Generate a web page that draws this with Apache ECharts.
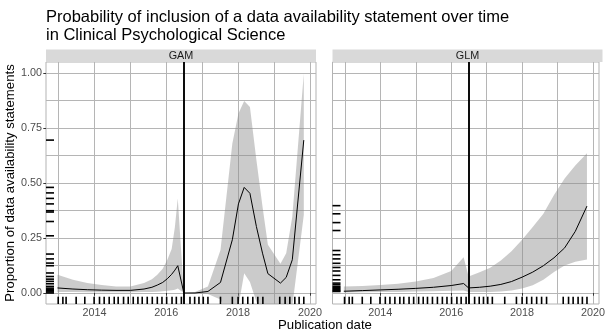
<!DOCTYPE html>
<html>
<head>
<meta charset="utf-8">
<script src="https://cdn.jsdelivr.net/npm/echarts@6/dist/echarts.min.js"></script>
<style>
    html, body { margin: 0; padding: 0; background: #fff; }
    #chart { width: 608px; height: 331px; }
</style>
</head>
<body>
<div id="chart"></div>
<script>
// GAM fit (prediction grid, decimal years)
var gamX     = [2012.97, 2013.4, 2013.8, 2014.2, 2014.6, 2015.0, 2015.38, 2015.6, 2015.75, 2015.9, 2016.03, 2016.15, 2016.24, 2016.32, 2016.49, 2016.8, 2017.16, 2017.51, 2017.84, 2018.01, 2018.17, 2018.33, 2018.51, 2018.68, 2018.83, 2019.18, 2019.34, 2019.51, 2019.83];
var gamFit   = [0.023, 0.018, 0.015, 0.013, 0.012, 0.012, 0.018, 0.026, 0.036, 0.048, 0.065, 0.085, 0.104, 0.124, 0.0, 0.0, 0.007, 0.048, 0.242, 0.405, 0.48, 0.453, 0.302, 0.181, 0.088, 0.045, 0.071, 0.151, 0.695];
var gamUpper = [0.083, 0.06, 0.045, 0.036, 0.03, 0.03, 0.045, 0.062, 0.083, 0.11, 0.151, 0.2, 0.3, 0.43, 0.0, 0.005, 0.03, 0.196, 0.68, 0.816, 0.873, 0.846, 0.604, 0.393, 0.219, 0.133, 0.181, 0.347, 0.997];
var gamLower = [0.004, 0.004, 0.003, 0.003, 0.003, 0.003, 0.004, 0.005, 0.006, 0.008, 0.01, 0.012, 0.015, 0.02, 0.0, 0.0, -0.005, -0.03, -0.15, -0.06, 0.09, 0.05, -0.04, -0.12, -0.15, -0.1, -0.1, -0.06, 0.355];

// GLM fit
var glmX     = [2012.97, 2013.5, 2014.0, 2014.5, 2015.0, 2015.5, 2016.0, 2016.35, 2016.49, 2016.8, 2017.1, 2017.4, 2017.7, 2018.0, 2018.3, 2018.6, 2018.9, 2019.2, 2019.5, 2019.83];
var glmFit   = [0.008, 0.011, 0.014, 0.017, 0.021, 0.026, 0.034, 0.043, 0.023, 0.026, 0.031, 0.039, 0.052, 0.072, 0.095, 0.124, 0.16, 0.205, 0.28, 0.395];
var glmUpper = [0.03, 0.032, 0.036, 0.042, 0.052, 0.068, 0.1, 0.163, 0.075, 0.094, 0.115, 0.148, 0.19, 0.242, 0.3, 0.36, 0.445, 0.52, 0.58, 0.635];
var glmLower = [0.002, 0.003, 0.004, 0.005, 0.007, 0.008, 0.01, 0.011, 0.004, 0.004, 0.005, 0.007, 0.011, 0.02, 0.035, 0.06, 0.095, 0.125, 0.142, 0.152];

// rugs: publication dates and fitted proportions
var rugDates = [2012.99, 2013.12, 2013.21, 2013.49, 2013.73, 2013.99, 2014.14, 2014.27, 2014.41, 2014.55, 2014.66, 2014.81, 2014.94, 2015.08, 2015.21, 2015.33, 2015.47, 2015.61, 2015.75, 2015.88, 2016.01, 2016.16, 2016.28, 2016.42,
                2016.66, 2016.79, 2016.91, 2017.03, 2017.16, 2017.51, 2017.84, 2018.0, 2018.13, 2018.27, 2018.41, 2018.55, 2018.69, 2019.16, 2019.31, 2019.44, 2019.58, 2019.7, 2019.83];
var gamRugY = [0.695, 0.48, 0.455, 0.43, 0.405, 0.374, 0.368, 0.325, 0.26, 0.177, 0.155, 0.136, 0.124, 0.091, 0.075, 0.063, 0.053, 0.042, 0.03, 0.022, 0.015, 0.01, 0.005, 0.0];
var glmRugY = [0.397, 0.36, 0.32, 0.284, 0.193, 0.174, 0.155, 0.135, 0.116, 0.1, 0.08, 0.06, 0.045, 0.038, 0.03, 0.025, 0.02, 0.015, 0.01, 0.007];

var policyDate = 2016.49;
var yearGrid = [2013, 2014, 2015, 2016, 2017, 2018, 2019, 2020];
var yearLabels = [2014, 2016, 2018, 2020];
var propGrid = [0, 0.125, 0.25, 0.375, 0.5, 0.625, 0.75, 0.875, 1];
var propLabels = [0, 0.25, 0.5, 0.75, 1];

var FONT = '"Liberation Sans", Arial, sans-serif';
var xMin = 2012.65, xMax = 2020.17, yMin = -0.05, yMax = 1.05;
var gridColor = '#b5b5b5';
var ribbonColor = 'rgba(140,140,140,0.45)';

var chart = echarts.init(document.getElementById('chart'));

function pairs(xs, ys) {
    return xs.map(function (x, i) { return [x, ys[i]]; });
}

// confidence band drawn as one polygon, clipped to the panel
function ribbon(pn) {
    return function (params, api) {
        if (params.dataIndex !== 0) return null;
        var top = [], bottom = [];
        for (var i = 0; i < pn.x.length; i++) {
            top.push(api.coord([pn.x[i], pn.hi[i]]));
            bottom.unshift(api.coord([pn.x[i], pn.lo[i]]));
        }
        var cs = params.coordSys;
        return {
            type: 'polygon',
            shape: { points: top.concat(bottom) },
            style: { fill: ribbonColor },
            clipPath: { type: 'rect', shape: { x: cs.x, y: cs.y, width: cs.width, height: cs.height } }
        };
    };
}

function rugBottom(params, api) {
    var p = api.coord([api.value(0), yMin]);
    return {
        type: 'line',
        shape: { x1: p[0], y1: p[1], x2: p[0], y2: p[1] - 7.3 },
        style: { stroke: '#000', lineWidth: 1.6 }
    };
}

function rugLeft(params, api) {
    var p = api.coord([xMin, api.value(1)]);
    return {
        type: 'line',
        shape: { x1: p[0], y1: p[1], x2: p[0] + 8, y2: p[1] },
        style: { stroke: '#000', lineWidth: 1.6 }
    };
}

var panels = [
    { name: 'GAM', left: 46, x: gamX, fit: gamFit, lo: gamLower, hi: gamUpper, rugY: gamRugY },
    { name: 'GLM', left: 332.5, x: glmX, fit: glmFit, lo: glmLower, hi: glmUpper, rugY: glmRugY }
];

var grids = [], xAxes = [], yAxes = [], series = [], graphics = [];

panels.forEach(function (pn, k) {
    grids.push({
        left: pn.left, top: 62, width: 270, height: 242,
        show: true, borderColor: '#b3b3b3', borderWidth: 1
    });
    // grid lines + labels
    xAxes.push({
        type: 'value', gridIndex: k, min: xMin, max: xMax,
        axisLine: { show: false },
        axisTick: { show: false, customValues: yearGrid },
        axisLabel: {
            customValues: yearLabels, margin: 4, color: '#4d4d4d',
            fontSize: 10.8, fontFamily: FONT,
            formatter: function (v) { return String(Math.round(v)); }
        },
        splitLine: { show: true, lineStyle: { color: gridColor, width: 1 } }
    });
    // major ticks only
    xAxes.push({
        type: 'value', gridIndex: k, min: xMin, max: xMax, position: 'bottom',
        axisLine: { show: false },
        axisTick: { show: true, length: 2.7, customValues: yearLabels, lineStyle: { color: '#333' } },
        axisLabel: { show: false },
        splitLine: { show: false }
    });
    var yMain = {
        type: 'value', gridIndex: k, min: yMin, max: yMax,
        axisLine: { show: false },
        axisTick: { show: false, customValues: propGrid },
        axisLabel: {
            show: k === 0, customValues: propLabels, margin: 4, color: '#4d4d4d',
            fontSize: 10.8, fontFamily: FONT,
            formatter: function (v) { return v.toFixed(2); }
        },
        splitLine: { show: true, lineStyle: { color: gridColor, width: 1 } }
    };
    if (k === 0) {
        yMain.name = 'Proportion of data availability statements';
        yMain.nameLocation = 'middle';
        yMain.nameRotate = 90;
        yMain.nameGap = 25;
        yMain.nameTextStyle = { fontSize: 13.2, color: '#000', fontFamily: FONT };
    }
    yAxes.push(yMain);
    yAxes.push({
        type: 'value', gridIndex: k, min: yMin, max: yMax, position: 'left',
        axisLine: { show: false },
        axisTick: { show: k === 0, length: 2.7, customValues: propLabels, lineStyle: { color: '#333' } },
        axisLabel: { show: false },
        splitLine: { show: false }
    });

    var xi = 2 * k, yi = 2 * k;
    series.push({
        type: 'custom', xAxisIndex: xi, yAxisIndex: yi, silent: true, z: 2, clip: true,
        data: pn.x.map(function (x, i) { return [x, pn.lo[i], pn.hi[i]]; }),
        renderItem: ribbon(pn)
    });
    series.push({
        type: 'line', xAxisIndex: xi, yAxisIndex: yi,
        data: pairs(pn.x, pn.fit), symbol: 'none', silent: true, z: 3,
        lineStyle: { color: '#000', width: 1 },
        markLine: {
            silent: true, symbol: ['none', 'none'], label: { show: false },
            lineStyle: { color: '#000', width: 1.9, type: 'solid' },
            data: [{ xAxis: policyDate }]
        }
    });
    series.push({
        type: 'custom', xAxisIndex: xi, yAxisIndex: yi, silent: true, z: 4,
        data: rugDates.map(function (d) { return [d, yMin]; }),
        renderItem: rugBottom
    });
    series.push({
        type: 'custom', xAxisIndex: xi, yAxisIndex: yi, silent: true, z: 4,
        data: pn.rugY.map(function (v) { return [xMin, v]; }),
        renderItem: rugLeft
    });

    graphics.push({
        type: 'rect', silent: true,
        shape: { x: pn.left, y: 49.5, width: 270, height: 12.5 },
        style: { fill: '#d9d9d9' }
    });
    graphics.push({
        type: 'text', silent: true, x: pn.left + 135, y: 56,
        style: { text: pn.name, align: 'center', verticalAlign: 'middle', font: '10.8px ' + FONT, fill: '#1a1a1a' }
    });
});

graphics.push({
    type: 'text', silent: true, x: 325, y: 325,
    style: { text: 'Publication date', align: 'center', verticalAlign: 'middle', font: '13.2px ' + FONT, fill: '#000' }
});

chart.setOption({
    animation: false,
    backgroundColor: '#fff',
    title: {
        text: 'Probability of inclusion of a data availability statement over time\nin Clinical Psychological Science',
        left: 46, top: 9, padding: 0,
        textStyle: { fontSize: 16.5, fontWeight: 'normal', color: '#000', fontFamily: FONT, lineHeight: 17.6 }
    },
    grid: grids,
    xAxis: xAxes,
    yAxis: yAxes,
    series: series,
    graphic: graphics
});
</script>
</body>
</html>
